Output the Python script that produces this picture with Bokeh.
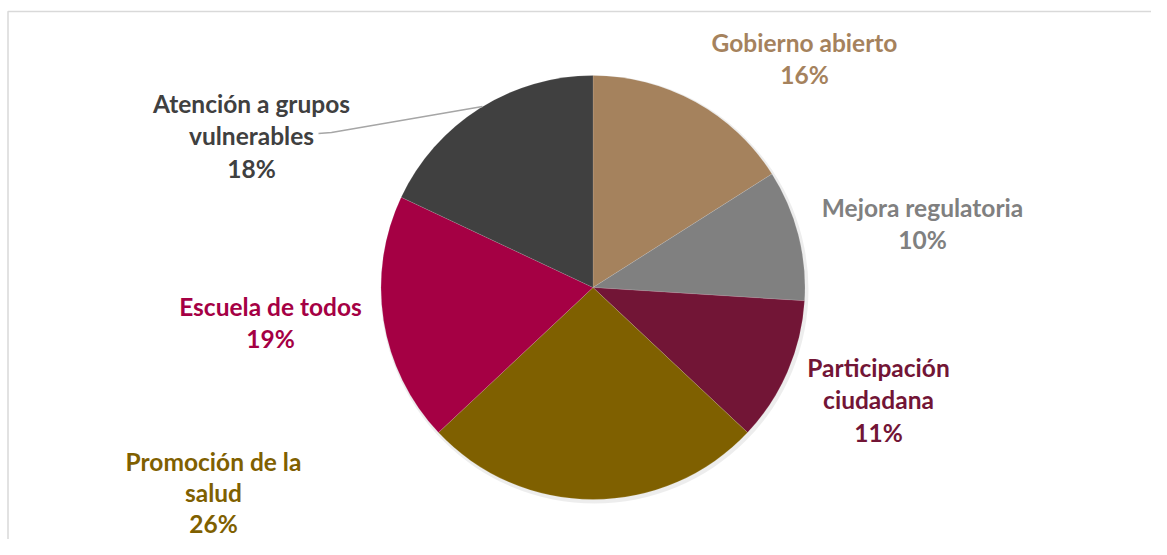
import math
from bokeh.plotting import figure
from bokeh.models import Range1d, ColumnDataSource
from bokeh.core.properties import value
from bokeh.embed import file_html
from bokeh.resources import INLINE

# ---- data ----
categories = ["Gobierno abierto", "Mejora regulatoria", "Participación ciudadana",
              "Promoción de la salud", "Escuela de todos", "Atención a grupos vulnerables"]
values = [16, 10, 11, 26, 19, 18]
colors = ["#A5825D", "#808080", "#721536", "#7F6000", "#A50044", "#404040"]
label_lines = [["Gobierno abierto"], ["Mejora regulatoria"], ["Participación", "ciudadana"],
               ["Promoción de la", "salud"], ["Escuela de todos"], ["Atención a grupos", "vulnerables"]]

# ---- layout (picture pixels, origin top-left) ----
W, H = 1151, 539
cx, cy, R = 592.5, 287.0, 212.0
# label block: (center x, baseline y of first line, line gap)
label_pos = [(804, 50, 32.5), (922, 215, 32.5), (878, 375, 32.5),
             (213, 469, 31.0), (270, 314, 32.5), (251, 111, 32.5)]
TEXT_SHIFT = -8.5
FONT = "Lato"
FSIZE = "24.5px"

def Y(py):
    return H - py

p = figure(width=W, height=H, output_backend="svg", toolbar_location=None,
           x_range=Range1d(0, W), y_range=Range1d(0, H),
           min_border=0, outline_line_color=None)
p.axis.visible = False
p.grid.visible = False
p.background_fill_color = "white"
p.border_fill_color = "white"

# chart frame (top and left edges visible)
p.line(x=[7.5, 7.5, 1200], y=[Y(600), Y(11), Y(11)], line_color="#D9D9D9", line_width=1.5)

# soft shadow
p.circle(x=[cx + 1.5], y=[Y(cy + 2)], radius=R + 2, fill_color="black", fill_alpha=0.07, line_color=None)

total = float(sum(values))
starts, ends = [], []
cum = 0.0
for v in values:
    a0 = math.pi / 2 - 2 * math.pi * cum / total
    cum += v
    a1 = math.pi / 2 - 2 * math.pi * cum / total
    starts.append(a0)
    ends.append(a1)

src = ColumnDataSource(dict(x=[cx] * len(values), y=[Y(cy)] * len(values),
                            start=starts, end=ends, color=colors, cat=categories))
p.wedge(x="x", y="y", radius=R, start_angle="start", end_angle="end", direction="clock",
        fill_color="color", line_color="white", line_width=0.3, line_alpha=0.4, source=src)

# leader line for Atención a grupos vulnerables
p.line(x=[318, 331, 482], y=[Y(133), Y(132), Y(106)], line_color="#A6A6A6", line_width=1.3)

# labels
tx, ty, tt, tc = [], [], [], []
for (lx, ly, gap), lines, v, c in zip(label_pos, label_lines, values, colors):
    allines = lines + ["%d%%" % round(100 * v / total)]
    for i, t in enumerate(allines):
        tx.append(lx)
        ty.append(Y(ly + TEXT_SHIFT + i * gap))
        tt.append(t)
        tc.append(c)
p.text(x=tx, y=ty, text=tt, text_color=tc, text_font=value(FONT), text_font_size=FSIZE,
       text_font_style="bold", text_align="center", text_baseline="alphabetic")

open("out.html", "w").write(file_html(p, INLINE))
